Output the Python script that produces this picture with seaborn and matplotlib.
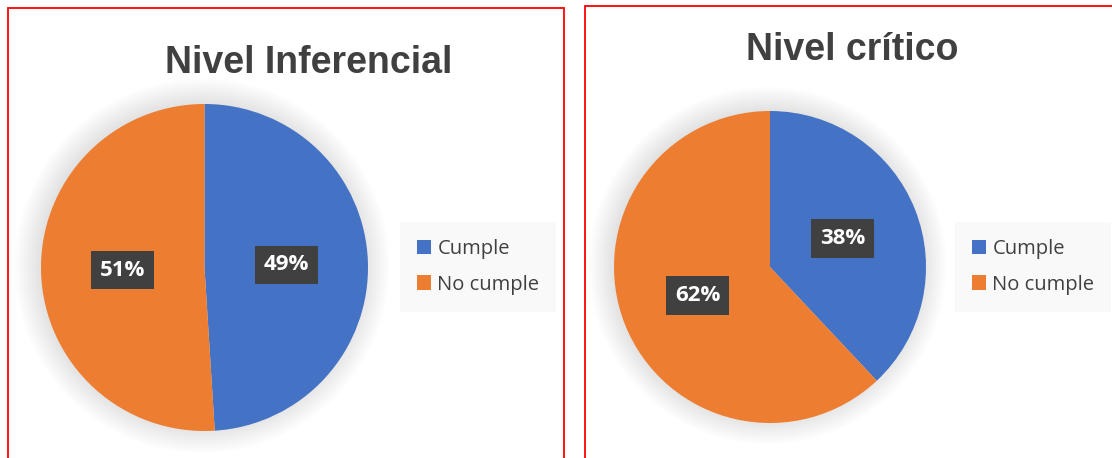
import matplotlib
matplotlib.use("Agg")
import matplotlib.pyplot as plt
from matplotlib.patches import Rectangle, Circle, Patch
import seaborn as sns

# data
categories = ["Cumple", "No cumple"]
inferencial_pct = [49, 51]
critico_pct = [38, 62]
titles = ["Nivel Inferencial", "Nivel crítico"]

sns.set_theme(style="white")
plt.rcParams["font.family"] = ["Open Sans", "DejaVu Sans"]
colors = ["#4472C4", "#ED7D31"]

W, H = 1112, 458
fig = plt.figure(figsize=(W / 100, H / 100), dpi=100)
fig.patch.set_facecolor("white")


def px_rect(x0, y0, x1, y1):
    return [x0 / W, 1 - y1 / H, (x1 - x0) / W, (y1 - y0) / H]


def draw_panel(values, title, cx, cy, r, title_xy, legend_xy):
    lim = 1.35
    half = r * lim
    ax = fig.add_axes(px_rect(cx - half, cy - half, cx + half, cy + half))
    ax.axis("off")

    # soft shadow behind the pie
    n = 16
    for i in range(n):
        ax.add_patch(Circle((-0.015, 0.01), 1.0 + 0.011 * (n - i) - 0.03,
                            facecolor="black", alpha=0.008, edgecolor="none", zorder=0))

    wedges, _, autotexts = ax.pie(
        values, colors=colors, startangle=90, counterclock=False, radius=1.0,
        autopct=lambda p: f"{p:.0f}%", pctdistance=0.5,
        wedgeprops=dict(edgecolor="none"),
    )
    ax.set_xlim(-lim, lim)
    ax.set_ylim(-lim, lim)
    ax.set_aspect("equal")
    for w in wedges:
        w.set_zorder(2)
    for t in autotexts:
        t.set_color("white")
        t.set_fontsize(16)
        t.set_fontweight("bold")
        t.set_zorder(4)
        t.set_bbox(dict(boxstyle="square,pad=0.4", facecolor="#404040",
                        edgecolor="none"))

    fig.text(title_xy[0] / W, 1 - title_xy[1] / H, title, ha="center", va="center",
             fontsize=27, fontweight="bold", color="#404040",
             family=["Liberation Sans", "DejaVu Sans"])

    handles = [Patch(facecolor=c, edgecolor="none") for c in colors]
    leg = fig.legend(handles, categories, loc="center left",
                     bbox_to_anchor=(legend_xy[0] / W, 1 - legend_xy[1] / H),
                     frameon=True, fontsize=14.5, handlelength=0.7, handleheight=0.7,
                     handletextpad=0.3, labelspacing=0.75, borderpad=0.85,
                     borderaxespad=0, fancybox=False, labelcolor="#404040")
    leg.get_frame().set_facecolor("#f8f8f8")
    leg.get_frame().set_edgecolor("none")
    return ax


draw_panel(inferencial_pct, titles[0], 204.5, 267.5, 163.5, (309, 63), (400, 267))
draw_panel(critico_pct, titles[1], 770, 267, 156, (852, 50), (955, 267))

# red panel borders
for x0, y0, x1, y1 in [(8, 8, 564, 470), (585, 6, 1130, 470)]:
    fig.patches.append(Rectangle((x0 / W, 1 - y1 / H), (x1 - x0) / W, (y1 - y0) / H,
                                 transform=fig.transFigure, fill=False,
                                 edgecolor="#ff0000", linewidth=1.3, zorder=10))

fig.savefig("out.png", dpi=100, facecolor="white")
